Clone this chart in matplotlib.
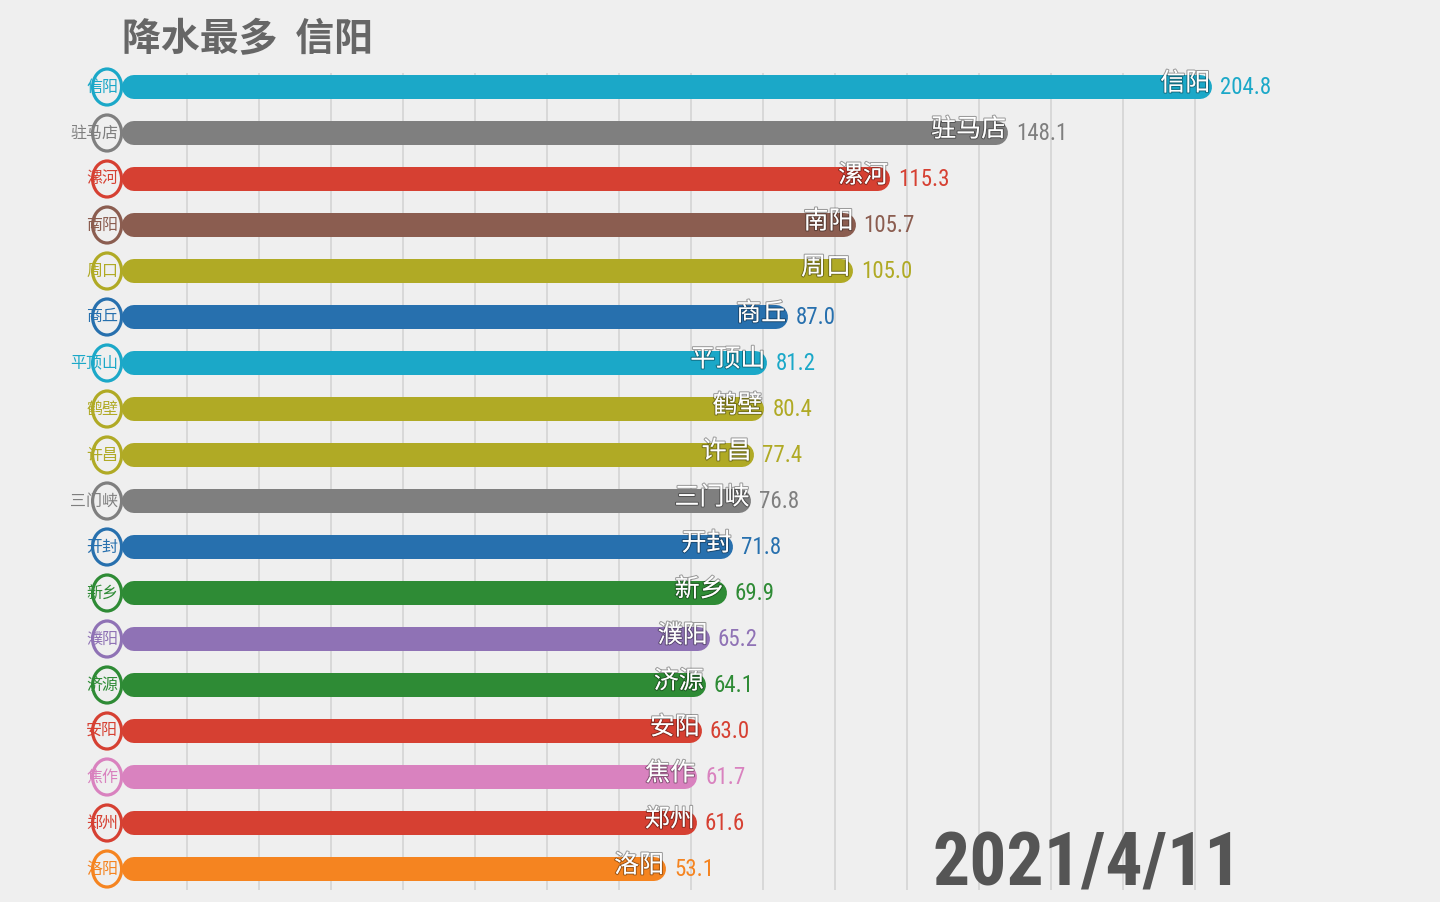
import matplotlib
matplotlib.use("Agg")
import matplotlib.pyplot as plt
import matplotlib.patheffects as pe
from matplotlib.patches import Ellipse
from matplotlib import font_manager
import numpy as np

# ---------------- data ----------------
cities = ['信阳', '驻马店', '漯河', '南阳', '周口', '商丘', '平顶山', '鹤壁', '许昌',
          '三门峡', '开封', '新乡', '濮阳', '济源', '安阳', '焦作', '郑州', '洛阳']
values = [204.8, 148.1, 115.3, 105.7, 105.0, 87.0, 81.2, 80.4, 77.4,
          76.8, 71.8, 69.9, 65.2, 64.1, 63.0, 61.7, 61.6, 53.1]
colors = ['#1ba8c8', '#7f7f7f', '#d64032', '#8b5d50', '#b0aa25', '#2770ae', '#1ba8c8',
          '#b0aa25', '#b0aa25', '#7f7f7f', '#2770ae', '#2e8b35', '#8f72b5', '#2e8b35',
          '#d64032', '#d982bf', '#d64032', '#f58420']
grid_ticks = list(range(-80, 201, 20))
title_text = '降水最多  信阳'
date_text = '2021/4/11'

# ---------------- fonts ----------------
available = {f.name for f in font_manager.fontManager.ttflist}
def pick(cands):
    for c in cands:
        if c in available:
            return c
    return 'DejaVu Sans'
narrow = pick(['Liberation Sans Narrow', 'Roboto Condensed', 'Open Sans Condensed', 'Liberation Sans'])
cjk = 'Noto Sans CJK SC'
plt.rcParams['font.family'] = [cjk, 'DejaVu Sans']

# ---------------- figure ----------------
W, H, DPI = 1440, 902, 100
bg = '#efefef'
fig = plt.figure(figsize=(W / DPI, H / DPI), dpi=DPI, facecolor=bg)
ax = fig.add_axes([0, 0, 1, 1])
ax.set_facecolor(bg)
for s in ax.spines.values():
    s.set_visible(False)
ax.set_xticks([])
ax.set_yticks([])

x0_px, px_per_unit = 475.0, 3.6
xmin = -x0_px / px_per_unit
xmax = (W - x0_px) / px_per_unit
y0_px, step_px = 87.0, 46.0
ax.set_xlim(xmin, xmax)
ax.set_ylim((H - y0_px) / step_px, -y0_px / step_px)

n = len(values)
ypos = np.arange(n)

# gridlines
ax.vlines(grid_ticks, -0.3, 17.45, color='#d6d6d6', lw=1.3, zorder=0)

# bars as round-capped thick lines
bar_px = 24
lw_pt = bar_px * 72 / DPI
half = (bar_px / 2) / px_per_unit
bar_base = -98.0
for i, (v, c) in enumerate(zip(values, colors)):
    ax.plot([bar_base + half, v - half], [i, i], color=c, lw=lw_pt,
            solid_capstyle='round', zorder=2)

# elliptical rings at the left (the source is stretched vertically)
ring_w = 29 / px_per_unit
ring_h = 36 / step_px
for i, c in enumerate(colors):
    ax.add_patch(Ellipse((-102.2, i), ring_w, ring_h, facecolor=bg, edgecolor=c,
                         lw=3.2 * 72 / DPI, zorder=3))

# left labels
for i, (name, c) in enumerate(zip(cities, colors)):
    ax.annotate(name, (bar_base, i), xytext=(-4 * 0.72, 0), textcoords='offset points',
                ha='right', va='center', fontsize=11.5, color=c, zorder=4,
                family=[cjk, 'DejaVu Sans'])

# inside labels and values
for i, (name, v, c) in enumerate(zip(cities, values, colors)):
    ax.annotate(name, (v, i), xytext=(-2 * 0.72, 3.5 * 0.72), textcoords='offset points',
                ha='right', va='center', fontsize=18, color='white', zorder=5,
                family=[cjk, 'DejaVu Sans'],
                path_effects=[pe.withStroke(linewidth=1.5, foreground=(0, 0, 0, 0.35))])
    ax.annotate(f'{v:.1f}', (v, i), xytext=(8 * 0.72, 0), textcoords='offset points',
                ha='left', va='center', fontsize=16.5, color=c, zorder=5,
                family=[narrow, 'DejaVu Sans'])

# title
fig.text(122 / W, 1 - 40 / H, title_text, ha='left', va='center', fontsize=28,
         fontweight='bold', color='#666666', family=[cjk, 'DejaVu Sans'])

# date
fig.text(1242 / W, 1 - 886 / H, date_text, ha='right', va='baseline', fontsize=53,
         fontweight='bold', color='#555555', family=[narrow, 'DejaVu Sans'])

fig.savefig('out.png', dpi=DPI, facecolor=bg)
